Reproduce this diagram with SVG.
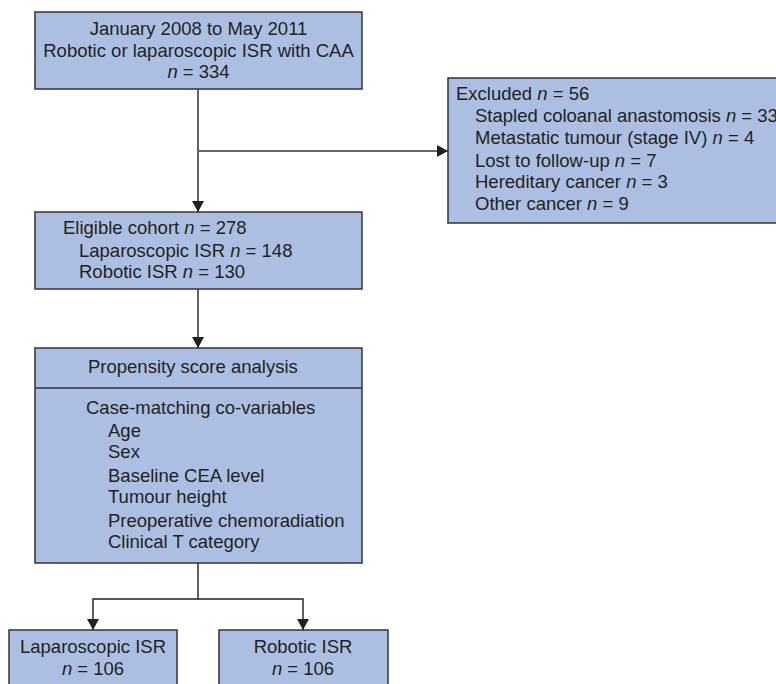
<svg xmlns="http://www.w3.org/2000/svg" width="776" height="684" viewBox="0 0 776 684">
<defs>
<marker id="ah" markerWidth="11" markerHeight="12" refX="11" refY="6" orient="auto" markerUnits="userSpaceOnUse">
<path d="M0,0 L11,6 L0,12 Z" fill="#231f20"/>
</marker>
<style>
.box{fill:#acbfe3;stroke:#333;stroke-width:1.5}
.t{font-family:"Liberation Sans",Arial,sans-serif;font-size:18.5px;fill:#231f20}
.c{text-anchor:middle}
.con{fill:none;stroke:#231f20;stroke-width:1.4}
</style>
</defs>
<rect width="776" height="684" fill="#fff"/>
<g id="connectors">
<line class="con" x1="198" y1="89" x2="198" y2="212" marker-end="url(#ah)"/>
<line class="con" x1="198" y1="151" x2="448" y2="151" style="stroke:#666;stroke-width:1.8" marker-end="url(#ah)"/>
<line class="con" x1="198" y1="289" x2="198" y2="348" marker-end="url(#ah)"/>
<polyline class="con" points="198,563 198,599 93,599 93,630" marker-end="url(#ah)"/>
<polyline class="con" points="198,599 303,599 303,630" marker-end="url(#ah)"/>
</g>
<g id="n1">
<rect class="box" x="35" y="12" width="327" height="77"/>
<text class="t c" x="198.5" y="35">January 2008 to May 2011</text>
<text class="t c" x="198.5" y="57">Robotic or laparoscopic ISR with CAA</text>
<text class="t c" x="198.5" y="78"><tspan font-style="italic">n</tspan> = 334</text>
</g>
<g id="excluded">
<rect class="box" x="448" y="78" width="340" height="145"/>
<text class="t" x="456" y="100">Excluded <tspan font-style="italic">n</tspan> = 56</text>
<text class="t" x="475" y="122">Stapled coloanal anastomosis <tspan font-style="italic">n</tspan> = 33</text>
<text class="t" x="475" y="144">Metastatic tumour (stage IV) <tspan font-style="italic">n</tspan> = 4</text>
<text class="t" x="475" y="167">Lost to follow-up <tspan font-style="italic">n</tspan> = 7</text>
<text class="t" x="475" y="188">Hereditary cancer <tspan font-style="italic">n</tspan> = 3</text>
<text class="t" x="475" y="210">Other cancer <tspan font-style="italic">n</tspan> = 9</text>
</g>
<g id="eligible">
<rect class="box" x="35" y="212" width="327" height="77"/>
<text class="t" x="63" y="234">Eligible cohort <tspan font-style="italic">n</tspan> = 278</text>
<text class="t" x="79" y="257">Laparoscopic ISR <tspan font-style="italic">n</tspan> = 148</text>
<text class="t" x="79" y="278">Robotic ISR <tspan font-style="italic">n</tspan> = 130</text>
</g>
<g id="propensity">
<rect class="box" x="35" y="348" width="327" height="215"/>
<line x1="35" y1="388" x2="362" y2="388" stroke="#333" stroke-width="1.5"/>
<text class="t" x="88" y="373">Propensity score analysis</text>
<text class="t" x="86" y="414">Case-matching co-variables</text>
<text class="t" x="108" y="437">Age</text>
<text class="t" x="108" y="458">Sex</text>
<text class="t" x="108" y="482">Baseline CEA level</text>
<text class="t" x="108" y="503">Tumour height</text>
<text class="t" x="108" y="527">Preoperative chemoradiation</text>
<text class="t" x="108" y="548">Clinical T category</text>
</g>
<g id="lap">
<rect class="box" x="9" y="630" width="168" height="70"/>
<text class="t c" x="93" y="653">Laparoscopic ISR</text>
<text class="t c" x="93" y="675"><tspan font-style="italic">n</tspan> = 106</text>
</g>
<g id="rob">
<rect class="box" x="219" y="630" width="169" height="70"/>
<text class="t c" x="303" y="653">Robotic ISR</text>
<text class="t c" x="303" y="675"><tspan font-style="italic">n</tspan> = 106</text>
</g>
</svg>
